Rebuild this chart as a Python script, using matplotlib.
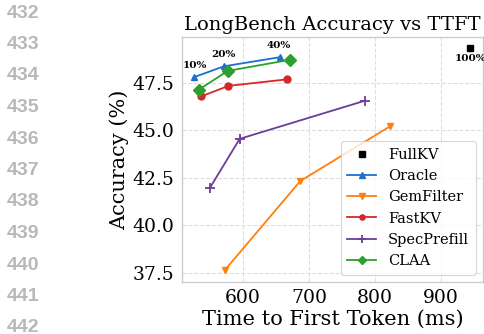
import matplotlib
matplotlib.use("Agg")
import matplotlib.pyplot as plt

# ---- data ----
line_numbers = ["432", "433", "434", "435", "436", "437", "438", "439", "440", "441", "442"]

fullkv_ttft = [945]
fullkv_acc = [49.3]

oracle_ttft = [525, 571, 656]
oracle_acc = [47.78, 48.36, 48.84]

gemfilter_ttft = [573, 687, 823]
gemfilter_acc = [37.65, 42.32, 45.2]

fastkv_ttft = [537, 578, 666]
fastkv_acc = [46.78, 47.33, 47.67]

specprefill_ttft = [550, 595, 785]
specprefill_acc = [41.97, 44.54, 46.55]

claa_ttft = [533, 577, 671]
claa_acc = [47.13, 48.12, 48.7]

budget_labels = ["10%", "20%", "40%"]
full_label = "100%"

plt.rcParams['font.family'] = ['DejaVu Serif']

fig = plt.figure(figsize=(4.85, 3.34), dpi=100)
ax = fig.add_axes([0.3746, 0.1557, 0.6213, 0.7333])

ax.grid(True, linestyle='--', color='#dddddd', linewidth=0.8)
ax.set_axisbelow(True)
for s in ax.spines.values():
    s.set_color('#cccccc')
    s.set_linewidth(1.0)
ax.tick_params(length=0, labelsize=13.5, pad=5)

ax.plot(fullkv_ttft, fullkv_acc, linestyle='none', marker='s', color='black', markersize=5, label='FullKV')
ax.plot(oracle_ttft, oracle_acc, marker='^', color='#1f6fd0', markersize=5, linewidth=1.3, label='Oracle')
ax.plot(gemfilter_ttft, gemfilter_acc, marker='v', color='#ff7f0e', markersize=5, linewidth=1.3, label='GemFilter')
ax.plot(fastkv_ttft, fastkv_acc, marker='o', color='#d62728', markersize=5, linewidth=1.3, label='FastKV')
ax.plot(specprefill_ttft, specprefill_acc, marker='+', color='#6a3d9a', markersize=7, markeredgewidth=1.3, linewidth=1.3, label='SpecPrefill')
ax.plot(claa_ttft, claa_acc, marker='D', color='#2ca02c', markersize=6, linewidth=1.3, label='CLAA')

offsets = [(1, 5), (0, 5), (-1, 5)]
for lab, x, y, off in zip(budget_labels, oracle_ttft, oracle_acc, offsets):
    ax.annotate(lab, (x, y), xytext=off, textcoords='offset points', ha='center', va='bottom',
                fontsize=7.5, fontweight='bold')
ax.annotate(full_label, (fullkv_ttft[0], fullkv_acc[0]), xytext=(0, -4), textcoords='offset points',
            ha='center', va='top', fontsize=7.5, fontweight='bold')

ax.set_xlim(507, 964)
ax.set_ylim(37.0, 49.9)
ax.set_xticks([600, 700, 800, 900])
ax.set_yticks([37.5, 40.0, 42.5, 45.0, 47.5])
ax.set_yticklabels(['37.5', '40.0', '42.5', '45.0', '47.5'])

ax.set_xlabel('Time to First Token (ms)', fontsize=15, labelpad=2)
ax.set_ylabel('Accuracy (%)', fontsize=15, labelpad=3)
ax.set_title('LongBench Accuracy vs TTFT', fontsize=14, pad=5)

leg = ax.legend(loc='lower right', fontsize=10.5, frameon=True, edgecolor='#cccccc',
                fancybox=True, handlelength=2.0, borderpad=0.45, labelspacing=0.5,
                markerscale=0.75)
leg.get_frame().set_linewidth(0.8)

for i, t in enumerate(line_numbers):
    fig.text(7 / 485, 1 - (13 + 31.5 * i) / 334, t, ha='left', va='center',
             fontsize=14, fontweight='bold', color='#b8b8b8', family='Liberation Sans')

fig.savefig('out.png', dpi=100)
